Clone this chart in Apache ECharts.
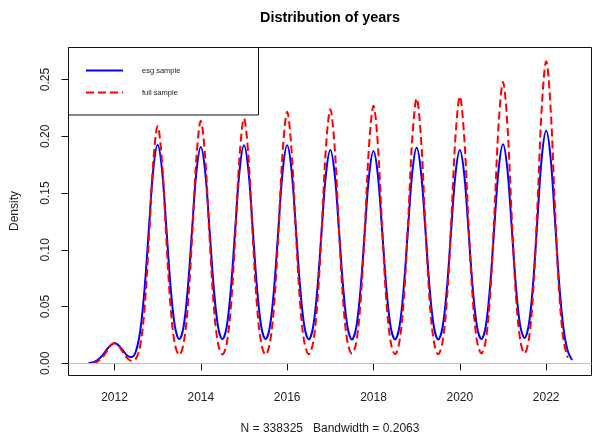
<!DOCTYPE html>
<html>
<head>
<meta charset="utf-8">
<script src="https://cdn.jsdelivr.net/npm/echarts@6/dist/echarts.min.js"></script>
<style>
  html, body { margin: 0; padding: 0; background: #fff; }
  #chart { width: 592px; height: 439px; }
</style>
</head>
<body>
<div id="chart"></div>
<script>
// Kernel density estimates of publication year, sampled every 0.1 year
const yearGrid = [
  2011.4, 2011.5, 2011.6, 2011.7, 2011.8, 2011.9,
  2012.0, 2012.1, 2012.2, 2012.3, 2012.4, 2012.5, 2012.6, 2012.7, 2012.8, 2012.9,
  2013.0, 2013.1, 2013.2, 2013.3, 2013.4, 2013.5, 2013.6, 2013.7, 2013.8, 2013.9,
  2014.0, 2014.1, 2014.2, 2014.3, 2014.4, 2014.5, 2014.6, 2014.7, 2014.8, 2014.9,
  2015.0, 2015.1, 2015.2, 2015.3, 2015.4, 2015.5, 2015.6, 2015.7, 2015.8, 2015.9,
  2016.0, 2016.1, 2016.2, 2016.3, 2016.4, 2016.5, 2016.6, 2016.7, 2016.8, 2016.9,
  2017.0, 2017.1, 2017.2, 2017.3, 2017.4, 2017.5, 2017.6, 2017.7, 2017.8, 2017.9,
  2018.0, 2018.1, 2018.2, 2018.3, 2018.4, 2018.5, 2018.6, 2018.7, 2018.8, 2018.9,
  2019.0, 2019.1, 2019.2, 2019.3, 2019.4, 2019.5, 2019.6, 2019.7, 2019.8, 2019.9,
  2020.0, 2020.1, 2020.2, 2020.3, 2020.4, 2020.5, 2020.6, 2020.7, 2020.8, 2020.9,
  2021.0, 2021.1, 2021.2, 2021.3, 2021.4, 2021.5, 2021.6, 2021.7, 2021.8, 2021.9,
  2022.0, 2022.1, 2022.2, 2022.3, 2022.4, 2022.5, 2022.6
];

// esg sample (bandwidth 0.2063)
const esgDensity = [
  0.0003, 0.0009, 0.0027, 0.0061, 0.0110, 0.0156,
  0.0176, 0.0157, 0.0111, 0.0067, 0.0055, 0.0111, 0.0296, 0.0669, 0.1203, 0.1711,
  0.1925, 0.1711, 0.1204, 0.0674, 0.0325, 0.0212, 0.0322, 0.0667, 0.1192, 0.1694,
  0.1906, 0.1694, 0.1192, 0.0667, 0.0322, 0.0212, 0.0324, 0.0672, 0.1201, 0.1707,
  0.1920, 0.1707, 0.1201, 0.0672, 0.0324, 0.0213, 0.0324, 0.0672, 0.1201, 0.1707,
  0.1920, 0.1707, 0.1201, 0.0672, 0.0323, 0.0211, 0.0318, 0.0658, 0.1176, 0.1671,
  0.1880, 0.1671, 0.1176, 0.0658, 0.0317, 0.0210, 0.0316, 0.0655, 0.1170, 0.1662,
  0.1870, 0.1662, 0.1170, 0.0655, 0.0316, 0.0211, 0.0320, 0.0665, 0.1189, 0.1689,
  0.1900, 0.1689, 0.1189, 0.0665, 0.0320, 0.0211, 0.0318, 0.0658, 0.1176, 0.1671,
  0.1880, 0.1671, 0.1176, 0.0658, 0.0318, 0.0213, 0.0325, 0.0676, 0.1207, 0.1716,
  0.1930, 0.1716, 0.1207, 0.0676, 0.0328, 0.0224, 0.0345, 0.0718, 0.1282, 0.1822,
  0.2050, 0.1822, 0.1281, 0.0711, 0.0313, 0.0109, 0.0030
];

// full sample
const fullDensity = [
  null, 0.0003, 0.0014, 0.0043, 0.0095, 0.0153,
  0.0180, 0.0153, 0.0095, 0.0044, 0.0021, 0.0042, 0.0163, 0.0497, 0.1104, 0.1781,
  0.2090, 0.1781, 0.1104, 0.0498, 0.0169, 0.0075, 0.0173, 0.0509, 0.1128, 0.1820,
  0.2136, 0.1820, 0.1128, 0.0509, 0.0173, 0.0078, 0.0175, 0.0514, 0.1139, 0.1838,
  0.2157, 0.1838, 0.1139, 0.0514, 0.0175, 0.0076, 0.0179, 0.0528, 0.1170, 0.1887,
  0.2215, 0.1887, 0.1170, 0.0528, 0.0180, 0.0080, 0.0181, 0.0534, 0.1182, 0.1908,
  0.2239, 0.1908, 0.1182, 0.0534, 0.0182, 0.0086, 0.0184, 0.0541, 0.1198, 0.1932,
  0.2268, 0.1932, 0.1198, 0.0541, 0.0184, 0.0080, 0.0189, 0.0556, 0.1232, 0.1988,
  0.2333, 0.1988, 0.1232, 0.0556, 0.0189, 0.0080, 0.0190, 0.0560, 0.1241, 0.2002,
  0.2350, 0.2002, 0.1241, 0.0560, 0.0191, 0.0088, 0.0200, 0.0591, 0.1309, 0.2112,
  0.2479, 0.2112, 0.1309, 0.0591, 0.0201, 0.0088, 0.0215, 0.0634, 0.1404, 0.2266,
  0.2660, 0.2266, 0.1404, 0.0633, 0.0207, 0.0049, null
];

const xTickValues = [2012, 2014, 2016, 2018, 2020, 2022];
const yTickValues = [0, 0.05, 0.10, 0.15, 0.20, 0.25];
const seriesNames = ['esg sample', 'full sample'];
const titleText = 'Distribution of years';
const subText = 'N = 338325   Bandwidth = 0.2063';
const yLabelText = 'Density';

const FONT = '"Liberation Sans", Arial, Helvetica, sans-serif';

const chart = echarts.init(document.getElementById('chart'), null, { renderer: 'canvas' });

const esgPoints = yearGrid.map((x, i) => [x, esgDensity[i]]);
const fullPoints = yearGrid.map((x, i) => [x, fullDensity[i]]);

const option = {
  backgroundColor: '#ffffff',
  animation: false,
  grid: {
    left: 68.5, top: 47.5, width: 523, height: 328,
    show: true, borderColor: '#111', borderWidth: 1,
    backgroundColor: 'transparent', containLabel: false
  },
  xAxis: {
    type: 'value',
    min: 2010.935, max: 2023.05,
    axisLine: { show: false },
    splitLine: { show: false },
    axisTick: { show: true, length: 7, lineStyle: { color: '#111' }, customValues: xTickValues },
    axisLabel: {
      color: '#222', fontFamily: FONT, fontSize: 12, margin: 16,
      customValues: xTickValues,
      formatter: v => String(Math.round(v))
    }
  },
  yAxis: {
    type: 'value',
    min: -0.0107, max: 0.2782,
    axisLine: { show: false },
    splitLine: { show: false },
    axisTick: { show: true, length: 7, lineStyle: { color: '#111' }, customValues: yTickValues },
    axisLabel: {
      color: '#222', fontFamily: FONT, fontSize: 12, margin: 17, rotate: 90,
      customValues: yTickValues,
      formatter: v => v.toFixed(2)
    }
  },
  series: [
    {
      name: seriesNames[0],
      type: 'line',
      data: esgPoints,
      showSymbol: false,
      smooth: 0.35,
      lineStyle: { color: '#0000ff', width: 2 },
      z: 3,
      markLine: {
        silent: true,
        symbol: 'none',
        label: { show: false },
        lineStyle: { color: '#bebebe', width: 1, type: 'solid' },
        data: [{ yAxis: 0 }]
      }
    },
    {
      name: seriesNames[1],
      type: 'line',
      data: fullPoints,
      showSymbol: false,
      smooth: 0.35,
      connectNulls: false,
      lineStyle: { color: '#ff0000', width: 2, type: [8, 4] },
      z: 4
    }
  ],
  graphic: [
    {
      type: 'text', x: 330, y: 18, z: 20,
      style: { text: titleText, font: 'bold 14.4px ' + FONT, fill: '#000', align: 'center', verticalAlign: 'middle' }
    },
    {
      type: 'text', x: 330, y: 429, z: 20,
      style: { text: subText, font: '12px ' + FONT, fill: '#222', align: 'center', verticalAlign: 'middle' }
    },
    {
      type: 'text', x: 15, y: 211, rotation: Math.PI / 2, z: 20,
      style: { text: yLabelText, font: '12px ' + FONT, fill: '#222', align: 'center', verticalAlign: 'middle' }
    },
    // legend box
    {
      type: 'rect', z: 30,
      shape: { x: 68.5, y: 47.5, width: 190, height: 67.5 },
      style: { fill: '#fff', stroke: '#111', lineWidth: 1 }
    },
    {
      type: 'line', z: 31,
      shape: { x1: 86, y1: 70.5, x2: 123, y2: 70.5 },
      style: { stroke: '#0000ff', lineWidth: 2 }
    },
    {
      type: 'line', z: 31,
      shape: { x1: 86, y1: 92.5, x2: 123, y2: 92.5 },
      style: { stroke: '#ff0000', lineWidth: 2, lineDash: [8, 4] }
    },
    {
      type: 'text', x: 142, y: 71, z: 31,
      style: { text: seriesNames[0], font: '7.5px ' + FONT, fill: '#222', align: 'left', verticalAlign: 'middle' }
    },
    {
      type: 'text', x: 142, y: 93, z: 31,
      style: { text: seriesNames[1], font: '7.5px ' + FONT, fill: '#222', align: 'left', verticalAlign: 'middle' }
    }
  ]
};

chart.setOption(option);
</script>
</body>
</html>
